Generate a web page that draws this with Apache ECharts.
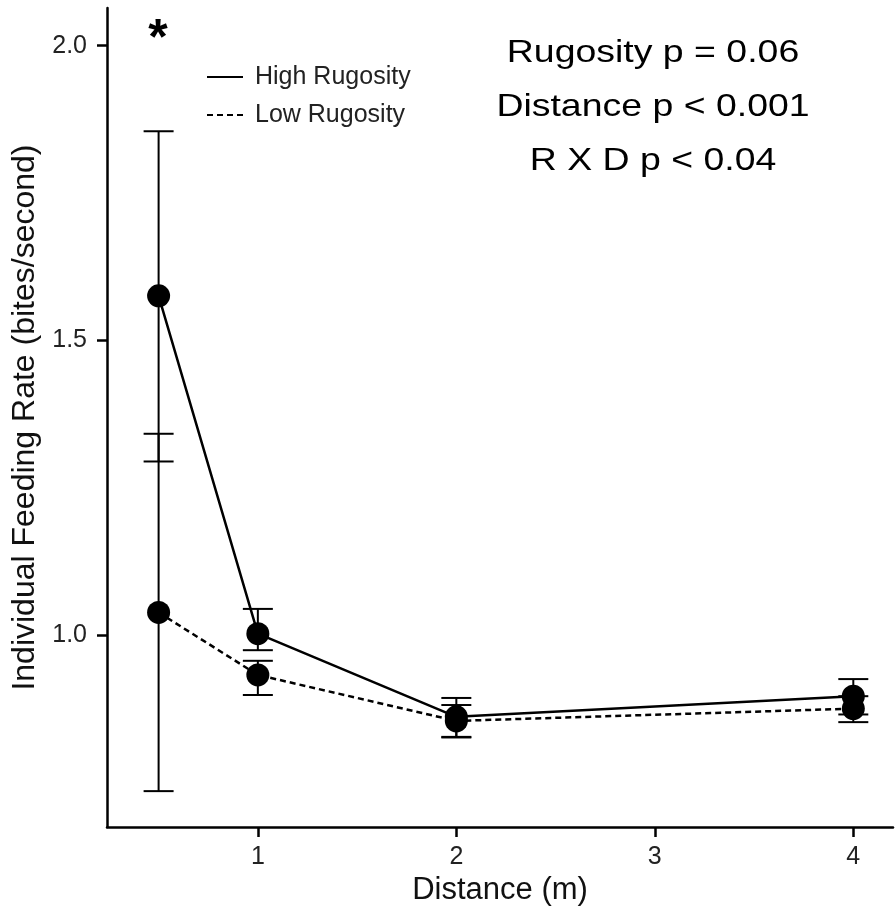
<!DOCTYPE html>
<html>
<head>
<meta charset="utf-8">
<script src="https://cdn.jsdelivr.net/npm/echarts@6/dist/echarts.min.js"></script>
<style>
html, body { margin: 0; padding: 0; background: #fff; }
#main { width: 895px; height: 911px; }
</style>
</head>
<body>
<div id="main"></div>
<script>
// distance (m)
const distances = [0.5, 1, 2, 4];

// high rugosity: mean and error bar ends
const highMean = [1.576, 1.003, 0.862, 0.897];
const highUpper = [1.855, 1.045, 0.894, 0.926];
const highLower = [1.295, 0.975, 0.827, 0.866];

// low rugosity
const lowMean = [1.039, 0.933, 0.855, 0.876];
const lowUpper = [1.342, 0.957, 0.882, 0.897];
const lowLower = [0.736, 0.899, 0.828, 0.853];

const xTicks = [1, 2, 3, 4];
const yTicks = [1.0, 1.5, 2.0];

const statLines = ['Rugosity p = 0.06', 'Distance p < 0.001', 'R X D p < 0.04'];

const font = 'Liberation Sans, Arial, sans-serif';

const myChart = echarts.init(document.getElementById('main'));

function errorBars(lower, upper) {
    return {
        type: 'custom',
        z: 1,
        clip: false,
        renderItem: function (params, api) {
            const x = api.value(0);
            const pLo = api.coord([x, api.value(1)]);
            const pHi = api.coord([x, api.value(2)]);
            const w = 15;
            const st = { stroke: '#000', lineWidth: 2 };
            return {
                type: 'group',
                children: [
                    { type: 'line', shape: { x1: pLo[0], y1: pLo[1], x2: pHi[0], y2: pHi[1] }, style: st },
                    { type: 'line', shape: { x1: pLo[0] - w, y1: pLo[1], x2: pLo[0] + w, y2: pLo[1] }, style: st },
                    { type: 'line', shape: { x1: pHi[0] - w, y1: pHi[1], x2: pHi[0] + w, y2: pHi[1] }, style: st }
                ]
            };
        },
        encode: { x: 0, y: [1, 2] },
        data: distances.map((d, i) => [d, lower[i], upper[i]])
    };
}

const option = {
    animation: false,
    backgroundColor: '#fff',
    grid: { left: 107, right: 2, top: 8, bottom: 83 },
    xAxis: {
        type: 'value',
        min: 0.24,
        max: 4.2,
        name: 'Distance (m)',
        nameLocation: 'middle',
        nameGap: 42,
        nameTextStyle: { fontFamily: font, fontSize: 31, color: '#111' },
        splitLine: { show: false },
        axisLine: { show: true, lineStyle: { color: '#000', width: 2.5 } },
        axisTick: { show: true, length: 10, customValues: xTicks, lineStyle: { color: '#000', width: 2.5 } },
        axisLabel: { customValues: xTicks, margin: 18, fontFamily: font, fontSize: 25, color: '#222' }
    },
    yAxis: {
        type: 'value',
        min: 0.675,
        max: 2.064,
        name: 'Individual Feeding Rate (bites/second)',
        nameLocation: 'middle',
        nameGap: 64,
        nameTextStyle: { fontFamily: font, fontSize: 32, color: '#111' },
        splitLine: { show: false },
        axisLine: { show: true, lineStyle: { color: '#000', width: 2.5 } },
        axisTick: { show: true, length: 10, customValues: yTicks, lineStyle: { color: '#000', width: 2.5 } },
        axisLabel: {
            customValues: yTicks, margin: 20, fontFamily: font, fontSize: 25, color: '#222',
            formatter: v => v.toFixed(1)
        }
    },
    series: [
        errorBars(highLower, highUpper),
        errorBars(lowLower, lowUpper),
        {
            name: 'High Rugosity',
            type: 'line',
            z: 3,
            symbol: 'circle',
            symbolSize: 23,
            itemStyle: { color: '#000' },
            lineStyle: { color: '#000', width: 2.5, type: 'solid' },
            data: distances.map((d, i) => [d, highMean[i]])
        },
        {
            name: 'Low Rugosity',
            type: 'line',
            z: 3,
            symbol: 'circle',
            symbolSize: 23,
            itemStyle: { color: '#000' },
            lineStyle: { color: '#000', width: 2.5, type: [6, 4] },
            data: distances.map((d, i) => [d, lowMean[i]])
        }
    ],
    graphic: [
        // significance star
        { type: 'text', x: 158, y: 40, style: { text: '*', font: 'bold 50px ' + font, fill: '#000', textAlign: 'center', textVerticalAlign: 'middle' } },
        // legend
        { type: 'line', shape: { x1: 207, y1: 77, x2: 243, y2: 77 }, style: { stroke: '#000', lineWidth: 2 } },
        { type: 'line', shape: { x1: 207, y1: 115, x2: 243, y2: 115 }, style: { stroke: '#000', lineWidth: 2, lineDash: [6, 4] } },
        { type: 'text', x: 255, y: 77, style: { text: 'High Rugosity', font: '25px ' + font, fill: '#222', textVerticalAlign: 'middle' } },
        { type: 'text', x: 255, y: 115, style: { text: 'Low Rugosity', font: '25px ' + font, fill: '#222', textVerticalAlign: 'middle' } },
        // stats
        ...statLines.map((t, i) => ({
            type: 'text', x: 653, y: 53 + i * 54, scaleX: 1.17,
            style: { text: t, font: '32px ' + font, fill: '#000', textAlign: 'center', textVerticalAlign: 'middle' }
        }))
    ]
};

myChart.setOption(option);
</script>
</body>
</html>
